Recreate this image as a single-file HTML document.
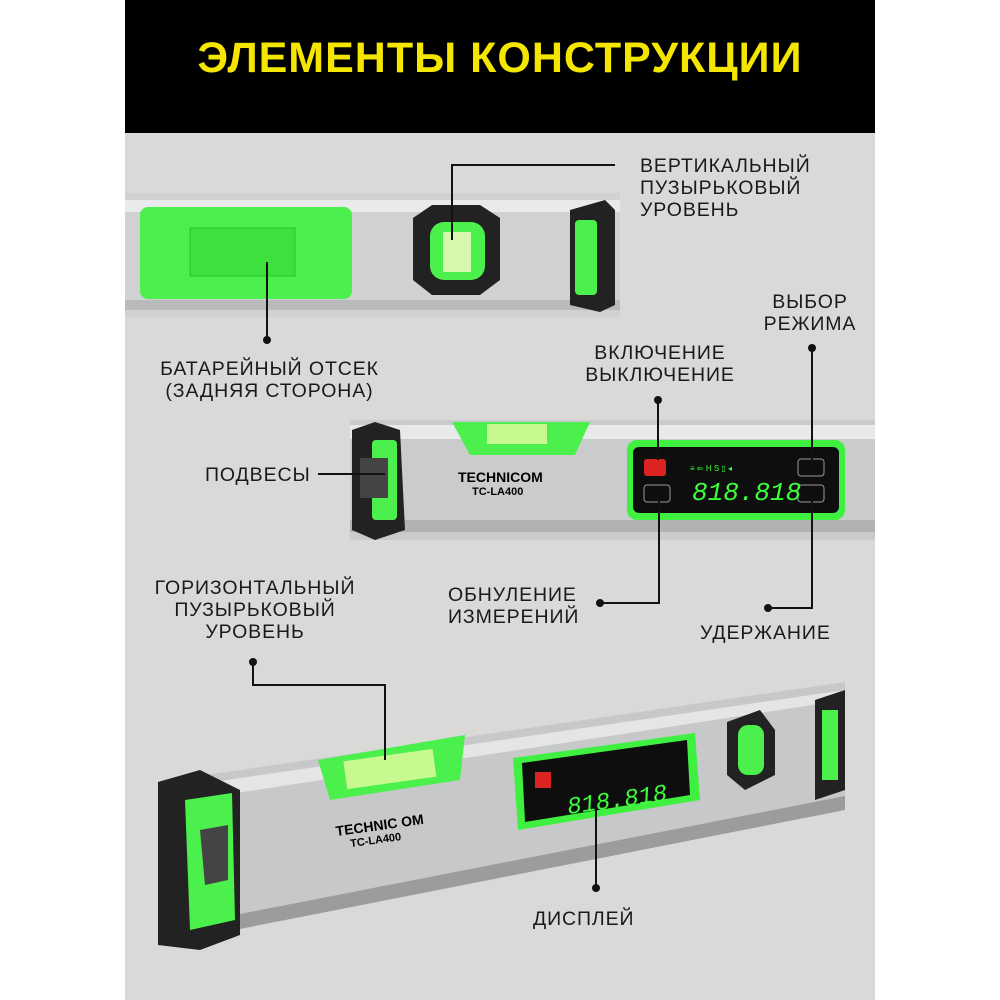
<!DOCTYPE html>
<html><head><meta charset="utf-8"><style>
body{margin:0;width:1000px;height:1000px;background:#fff;position:relative;overflow:hidden;font-family:"Liberation Sans",sans-serif}
.t{position:absolute;font-size:19.5px;letter-spacing:0.9px;color:#1a1a1a;line-height:22px}
</style></head><body>
<div style="position:absolute;left:125px;top:0;width:750px;height:133px;background:#000"></div>
<div style="position:absolute;left:125px;top:34px;width:750px;text-align:center;color:#f5e600;font-weight:bold;font-size:43px;letter-spacing:1px">ЭЛЕМЕНТЫ КОНСТРУКЦИИ</div>
<div style="position:absolute;left:125px;top:133px;width:750px;height:867px;background:#d9d9d8"></div>
<svg width="1000" height="1000" style="position:absolute;left:0;top:0">
<rect x="125" y="193" width="495" height="124" fill="#cfd1d3"/>
<rect x="125" y="200" width="495" height="12" fill="#e9eaeb"/>
<rect x="125" y="300" width="495" height="10" fill="#b8babc"/>
<rect x="140" y="207" width="212" height="92" rx="8" fill="#4cf04c"/>
<rect x="190" y="228" width="105" height="48" fill="#3ee03e" stroke="#2cc02c"/>
<path d="M413 218 L432 205 L480 205 L500 218 L500 280 L480 295 L432 295 L413 280Z" fill="#222"/>
<rect x="430" y="222" width="55" height="58" rx="14" fill="#4cf04c"/>
<rect x="443" y="232" width="28" height="40" fill="#d8f8b0"/>
<path d="M570 210 L605 200 L615 210 L615 305 L600 312 L570 305Z" fill="#222"/>
<rect x="575" y="220" width="22" height="75" rx="4" fill="#4cf04c"/>
<rect x="350" y="420" width="525" height="120" fill="#c9cbcd"/>
<rect x="350" y="425" width="525" height="14" fill="#e8e9ea"/>
<rect x="350" y="520" width="525" height="12" fill="#b0b2b4"/>
<path d="M352 430 L375 422 L400 430 L405 530 L375 540 L352 530Z" fill="#222"/>
<rect x="372" y="440" width="25" height="80" rx="4" fill="#4cf04c"/>
<rect x="360" y="458" width="28" height="40" fill="#444"/>
<path d="M452 422 L590 422 L575 455 L470 455Z" fill="#4cf04c"/>
<rect x="487" y="424" width="60" height="20" fill="#c8f890"/>
<text x="458" y="482" font-size="14" font-weight="bold" font-family="Liberation Sans">TECHNICOM</text>
<text x="472" y="495" font-size="11" font-weight="bold" font-family="Liberation Sans">TC-LA400</text>
<rect x="627" y="440" width="218" height="80" rx="10" fill="#40f040"/>
<rect x="633" y="447" width="206" height="66" rx="6" fill="#0e0e0e"/>
<rect x="644" y="459" width="22" height="17" rx="3" fill="#d22"/>
<rect x="644" y="485" width="26" height="17" rx="3" fill="none" stroke="#999"/>
<rect x="798" y="459" width="26" height="17" rx="3" fill="none" stroke="#999"/>
<rect x="798" y="485" width="26" height="17" rx="3" fill="none" stroke="#999"/>
<text x="692" y="500" font-size="26" fill="#3cff3c" font-family="Liberation Mono" font-style="italic">818.818</text>
<text x="690" y="471" font-size="8" fill="#3cff3c" font-family="Liberation Sans">≡ ⇐ H S ▯ ◂</text>
<path d="M158 782 L845 682 L845 810 L158 945Z" fill="#c6c8ca"/>
<path d="M158 790 L845 690 L845 700 L158 805Z" fill="#e4e5e6"/>
<path d="M158 930 L845 796 L845 810 L158 945Z" fill="#9a9c9e"/>
<path d="M158 782 L200 770 L240 790 L240 935 L200 950 L158 945Z" fill="#222"/>
<path d="M185 800 L232 793 L235 920 L190 930Z" fill="#4cf04c"/>
<path d="M200 830 L228 825 L228 880 L205 885Z" fill="#444"/>
<path d="M318 760 L465 735 L460 780 L330 800Z" fill="#4cf04c"/>
<rect x="345" y="755" width="90" height="28" fill="#c8f890" transform="rotate(-8 390 770)"/>
<text x="336" y="830" font-size="14" font-weight="bold" transform="rotate(-8 380 830)" font-family="Liberation Sans">TECHNIC OM</text>
<text x="350" y="843" font-size="11" font-weight="bold" transform="rotate(-8 380 840)" font-family="Liberation Sans">TC-LA400</text>
<path d="M513 758 L695 733 L700 800 L518 830Z" fill="#40f040"/>
<path d="M522 763 L687 740 L690 795 L525 822Z" fill="#0e0e0e"/>
<text x="566" y="808" font-size="24" fill="#3cff3c" font-family="Liberation Mono" font-style="italic" transform="rotate(-8 610 795)">818.818</text>
<rect x="535" y="772" width="16" height="16" fill="#d22"/>
<path d="M727 722 L760 710 L775 730 L775 775 L745 790 L727 775Z" fill="#222"/>
<rect x="738" y="725" width="26" height="50" rx="10" fill="#4cf04c"/>
<path d="M815 700 L845 690 L845 790 L815 800Z" fill="#222"/>
<rect x="822" y="710" width="16" height="70" fill="#4cf04c"/>
<g stroke="#111" stroke-width="2" fill="none">
<path d="M615 165 H452 V240"/>
<path d="M267 340 V262"/>
<path d="M658 400 V460"/>
<path d="M812 348 V468"/>
<path d="M318 474 H385"/>
<path d="M600 603 H659 V495"/>
<path d="M768 608 H812 V495"/>
<path d="M253 662 V685 H385 V760"/>
<path d="M596 888 V805"/>
</g>
<g fill="#111">
<circle cx="267" cy="340" r="4"/><circle cx="658" cy="400" r="4"/><circle cx="812" cy="348" r="4"/>
<circle cx="600" cy="603" r="4"/><circle cx="768" cy="608" r="4"/><circle cx="253" cy="662" r="4"/><circle cx="596" cy="888" r="4"/>
</g>
</svg>
<div class="t" style="left:640px;top:155px">ВЕРТИКАЛЬНЫЙ<br>ПУЗЫРЬКОВЫЙ<br>УРОВЕНЬ</div>
<div class="t" style="left:147px;top:358px;width:245px;text-align:center">БАТАРЕЙНЫЙ ОТСЕК<br>(ЗАДНЯЯ СТОРОНА)</div>
<div class="t" style="left:570px;top:342px;width:180px;text-align:center">ВКЛЮЧЕНИЕ<br>ВЫКЛЮЧЕНИЕ</div>
<div class="t" style="left:755px;top:291px;width:110px;text-align:center">ВЫБОР<br>РЕЖИМА</div>
<div class="t" style="left:205px;top:464px">ПОДВЕСЫ</div>
<div class="t" style="left:448px;top:584px">ОБНУЛЕНИЕ<br>ИЗМЕРЕНИЙ</div>
<div class="t" style="left:700px;top:622px">УДЕРЖАНИЕ</div>
<div class="t" style="left:130px;top:577px;width:250px;text-align:center">ГОРИЗОНТАЛЬНЫЙ<br>ПУЗЫРЬКОВЫЙ<br>УРОВЕНЬ</div>
<div class="t" style="left:533px;top:908px">ДИСПЛЕЙ</div>
</body></html>
